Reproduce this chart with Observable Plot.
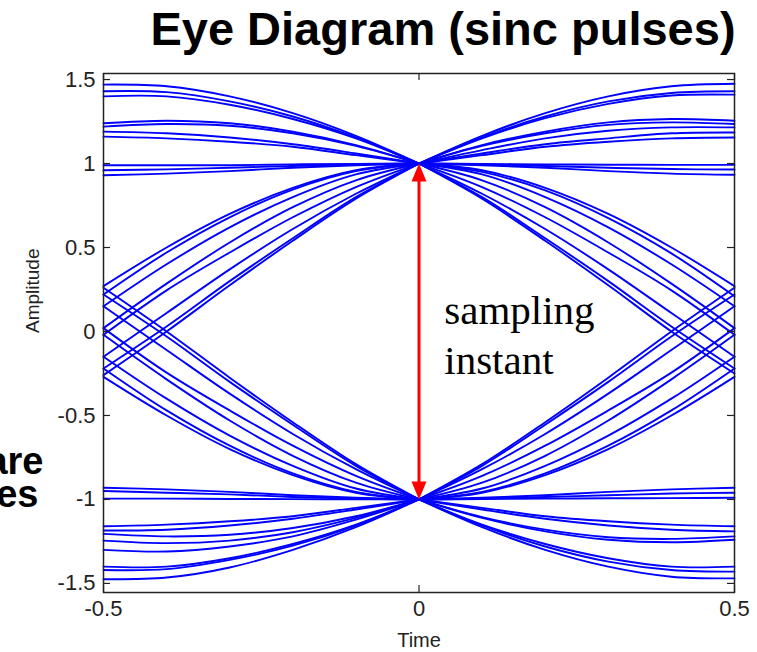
<!DOCTYPE html>
<html>
<head>
<meta charset="utf-8">
<script src="https://cdn.jsdelivr.net/npm/d3@7"></script>
<script src="https://cdn.jsdelivr.net/npm/@observablehq/plot@0.6"></script>
<style>
  html, body { margin: 0; padding: 0; background: #fff; }
  #chart { width: 757px; height: 652px; }
</style>
</head>
<body>
<div id="chart"></div>
<script>
// ---------- data ----------
const titleText = "Eye Diagram (sinc pulses)";
const xLabel = "Time";
const yLabel = "Amplitude";
const annotation = "sampling\ninstant";
const cutText = ["are", "es"];
const xTicks = [-0.5, 0, 0.5];
const yTicks = [-1.5, -1, -0.5, 0, 0.5, 1, 1.5];
const sampleValues = [1, -1]; // arrow tips at the sampling instant

// sample times of the left and right half of each symbol period
const tLeft = [-0.5, -0.4, -0.3, -0.2, -0.1, 0];
const tRight = [0, 0.1, 0.2, 0.3, 0.4, 0.5];

// traces through +1, left half (values at tLeft)
const upperLeft = [
  [1.47, 1.46, 1.40, 1.30, 1.165, 1],
  [1.43, 1.425, 1.37, 1.28, 1.155, 1],
  [1.40, 1.40, 1.35, 1.265, 1.15, 1],
  [1.24, 1.255, 1.24, 1.19, 1.11, 1],
  [1.22, 1.235, 1.225, 1.18, 1.105, 1],
  [1.19, 1.18, 1.155, 1.115, 1.06, 1],
  [1.16, 1.15, 1.13, 1.10, 1.05, 1],
  [0.99, 0.99, 0.99, 0.995, 0.998, 1],
  [0.96, 0.965, 0.975, 0.985, 0.995, 1],
  [0.93, 0.94, 0.955, 0.975, 0.99, 1],
  [0.27, 0.50, 0.70, 0.855, 0.96, 1],
  [0.22, 0.47, 0.68, 0.845, 0.955, 1],
  [0.15, 0.40, 0.62, 0.80, 0.935, 1],
  [0.02, 0.285, 0.53, 0.74, 0.90, 1],
  [-0.02, 0.245, 0.47, 0.68, 0.86, 1],
  [-0.15, 0.11, 0.37, 0.61, 0.82, 1],
  [-0.22, 0.03, 0.30, 0.555, 0.80, 1],
  [-0.26, 0.0, 0.275, 0.54, 0.79, 1]
];
// traces through +1, right half (values at tRight)
const upperRight = [
  [1, 1.165, 1.30, 1.40, 1.46, 1.475],
  [1, 1.155, 1.28, 1.37, 1.42, 1.43],
  [1, 1.15, 1.27, 1.355, 1.405, 1.41],
  [1, 1.11, 1.19, 1.245, 1.265, 1.255],
  [1, 1.105, 1.18, 1.23, 1.245, 1.235],
  [1, 1.08, 1.15, 1.195, 1.215, 1.215],
  [1, 1.06, 1.115, 1.15, 1.18, 1.185],
  [1, 1.05, 1.10, 1.13, 1.15, 1.155],
  [1, 0.998, 0.995, 0.993, 0.992, 0.992],
  [1, 0.995, 0.985, 0.975, 0.967, 0.964],
  [1, 0.99, 0.975, 0.955, 0.94, 0.933],
  [1, 0.96, 0.855, 0.70, 0.50, 0.27],
  [1, 0.95, 0.84, 0.675, 0.465, 0.21],
  [1, 0.935, 0.80, 0.62, 0.40, 0.15],
  [1, 0.90, 0.74, 0.53, 0.285, 0.02],
  [1, 0.86, 0.68, 0.47, 0.245, -0.02],
  [1, 0.82, 0.61, 0.37, 0.11, -0.15],
  [1, 0.80, 0.555, 0.30, 0.03, -0.22],
  [1, 0.79, 0.54, 0.275, 0.0, -0.25]
];
// traces through -1, left half (values at tLeft)
const lowerLeft = [
  [-0.93, -0.94, -0.955, -0.975, -0.99, -1],
  [-0.95, -0.96, -0.97, -0.985, -0.995, -1],
  [-0.995, -0.995, -0.997, -0.998, -0.999, -1],
  [-1.16, -1.15, -1.13, -1.10, -1.05, -1],
  [-1.185, -1.18, -1.155, -1.115, -1.06, -1],
  [-1.205, -1.22, -1.21, -1.17, -1.10, -1],
  [-1.245, -1.26, -1.245, -1.195, -1.11, -1],
  [-1.30, -1.31, -1.28, -1.22, -1.12, -1],
  [-1.40, -1.40, -1.35, -1.265, -1.15, -1],
  [-1.42, -1.415, -1.36, -1.275, -1.155, -1],
  [-1.475, -1.465, -1.405, -1.30, -1.165, -1],
  [0.26, 0.0, -0.275, -0.54, -0.79, -1],
  [0.22, -0.03, -0.30, -0.555, -0.80, -1],
  [0.15, -0.11, -0.37, -0.61, -0.82, -1],
  [0.02, -0.245, -0.47, -0.68, -0.86, -1],
  [-0.02, -0.285, -0.53, -0.74, -0.90, -1],
  [-0.15, -0.40, -0.62, -0.80, -0.935, -1],
  [-0.22, -0.47, -0.68, -0.845, -0.955, -1],
  [-0.27, -0.50, -0.70, -0.855, -0.96, -1]
];
// traces through -1, right half (values at tRight)
const lowerRight = [
  [-1, -0.998, -0.995, -0.993, -0.992, -0.99],
  [-1, -0.995, -0.985, -0.975, -0.965, -0.96],
  [-1, -0.99, -0.975, -0.955, -0.94, -0.93],
  [-1, -1.11, -1.19, -1.24, -1.255, -1.24],
  [-1, -1.105, -1.18, -1.225, -1.235, -1.22],
  [-1, -1.06, -1.115, -1.155, -1.18, -1.19],
  [-1, -1.05, -1.10, -1.13, -1.15, -1.16],
  [-1, -1.165, -1.30, -1.40, -1.46, -1.47],
  [-1, -1.155, -1.28, -1.37, -1.42, -1.43],
  [-1, -1.15, -1.265, -1.35, -1.40, -1.40],
  [-1, -0.96, -0.855, -0.70, -0.50, -0.27],
  [-1, -0.955, -0.845, -0.68, -0.47, -0.22],
  [-1, -0.935, -0.80, -0.62, -0.40, -0.15],
  [-1, -0.90, -0.74, -0.53, -0.285, -0.02],
  [-1, -0.86, -0.68, -0.47, -0.245, 0.02],
  [-1, -0.82, -0.61, -0.37, -0.11, 0.15],
  [-1, -0.80, -0.555, -0.30, -0.03, 0.22],
  [-1, -0.79, -0.54, -0.275, 0.0, 0.26]
];

// ---------- build table for the library ----------
function toRows(traces, times, prefix) {
  const rows = [];
  traces.forEach((vals, i) => vals.forEach((v, j) => rows.push({t: times[j], v, id: prefix + i})));
  return rows;
}
const traceRows = [
  ...toRows(upperLeft, tLeft, "ul"),
  ...toRows(upperRight, tRight, "ur"),
  ...toRows(lowerLeft, tLeft, "ll"),
  ...toRows(lowerRight, tRight, "lr")
];

const arrowHead = {
  draw(ctx) { ctx.moveTo(0, 0); ctx.lineTo(7.5, 18); ctx.lineTo(-7.5, 18); ctx.closePath(); }
};

const W = 757, H = 652;
const mL = 103, mR = 23, mT = 73, mB = 60;
const plotW = W - mL - mR, plotH = H - mT - mB;
const font = "'Liberation Sans', Arial, sans-serif";

const chart = Plot.plot({
  width: W, height: H,
  marginLeft: mL, marginRight: mR, marginTop: mT, marginBottom: mB,
  style: {fontFamily: font, background: "#fff", overflow: "visible"},
  x: {domain: [-0.5, 0.5], ticks: xTicks, tickSize: 0, tickPadding: 8, tickFormat: d => String(d), label: null},
  y: {domain: [-1.554, 1.536], ticks: yTicks, tickSize: 0, tickPadding: 8, tickFormat: d => String(d), label: null},
  marks: [
    Plot.line(traceRows, {x: "t", y: "v", z: "id", curve: "catmull-rom", stroke: "#0000ff", strokeWidth: 1.9}),
    // inward ticks on all four sides
    Plot.tickY(yTicks, {y: d => d, insetRight: plotW - 7, stroke: "#222", strokeWidth: 1.2}),
    Plot.tickY(yTicks, {y: d => d, insetLeft: plotW - 7, stroke: "#222", strokeWidth: 1.2}),
    Plot.tickX(xTicks, {x: d => d, insetTop: plotH - 7, stroke: "#222", strokeWidth: 1.2}),
    Plot.tickX(xTicks, {x: d => d, insetBottom: plotH - 7, stroke: "#222", strokeWidth: 1.2}),
    Plot.frame({stroke: "#222", strokeWidth: 1.5}),
    // sampling-instant arrow
    Plot.ruleX([0], {y1: sampleValues[1] * 0.93, y2: sampleValues[0] * 0.93, stroke: "#ff0000", strokeWidth: 3}),
    Plot.dot(sampleValues, {x: 0, y: d => d, symbol: arrowHead, fill: "#ff0000", stroke: "none", rotate: d => d > 0 ? 0 : 180}),
    Plot.text([annotation], {x: 0.04, y: -0.01, text: d => d, textAnchor: "start", lineAnchor: "middle", lineHeight: 1.22,
      fontSize: 41, fontFamily: "'Liberation Serif', 'Times New Roman', serif", fill: "#000"}),
    // axis titles
    Plot.text([xLabel], {frameAnchor: "bottom", dy: 54, text: d => d, fontSize: 20, lineAnchor: "bottom", fill: "#222"}),
    Plot.text([yLabel], {frameAnchor: "left", dx: -71, text: d => d, fontSize: 19, rotate: -90, fill: "#222"}),
    // chart title
    Plot.text([titleText], {frameAnchor: "top", dx: 24, dy: -29, text: d => d, fontSize: 47, fontWeight: "bold", lineAnchor: "bottom", fill: "#000"}),
    // cut-off slide text at the left edge
    Plot.text([cutText[0]], {frameAnchor: "left", dx: -60, dy: 140.5, text: d => d, fontSize: 38, fontWeight: "bold", textAnchor: "end", lineAnchor: "bottom", fill: "#000"}),
    Plot.text([cutText[1]], {frameAnchor: "left", dx: -65, dy: 174, text: d => d, fontSize: 38, fontWeight: "bold", textAnchor: "end", lineAnchor: "bottom", fill: "#000"})
  ]
});
chart.querySelectorAll("g[aria-label='x-axis tick label'], g[aria-label='y-axis tick label']").forEach(g => {
  g.setAttribute("font-size", "22");
  g.setAttribute("fill", "#222");
});
document.getElementById("chart").appendChild(chart);
</script>
</body>
</html>
